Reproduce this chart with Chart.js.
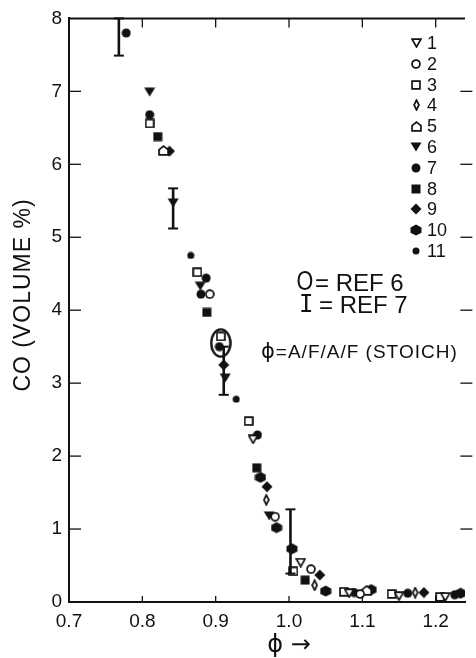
<!DOCTYPE html>
<html><head><meta charset="utf-8">
<script src="https://cdn.jsdelivr.net/npm/chart.js@4.4.1/dist/chart.umd.min.js"></script>
<style>html,body{margin:0;padding:0;background:#fff;overflow:hidden}</style>
</head><body>
<canvas id="c" width="476" height="658"></canvas>
<script>
// ---- data ----
const seriesLabels = ['1','2','3','4','5','6','7','8','9','10','11'];
const xTicks = [0.7, 0.8, 0.9, 1.0, 1.1, 1.2];
const yTicks = [0, 1, 2, 3, 4, 5, 6, 7, 8];
const s1  = [[0.951,2.23],[1.016,0.54],[1.082,0.12],[1.150,0.08],[1.213,0.07]];
const s2  = [[0.892,4.22],[0.981,1.17],[1.030,0.45],[1.097,0.11]];
const s3  = [[0.810,6.56],[0.875,4.52],[0.907,3.64],[0.945,2.48],[1.006,0.42],[1.075,0.14],[1.140,0.11],[1.206,0.07]];
const s4  = [[0.969,1.40],[1.035,0.23],[1.172,0.13]];
const s5  = [[0.829,6.19],[1.106,0.16]];
const s6  = [[0.810,6.99],[0.842,5.47],[0.879,4.33],[0.913,3.07],[0.973,1.18]];
const s7  = [[0.778,7.80],[0.810,6.68],[0.887,4.44],[0.880,4.22],[0.905,3.50],[0.957,2.29],[1.089,0.13],[1.162,0.12],[1.226,0.10]];
const s8  = [[0.821,6.38],[0.888,3.97],[0.956,1.84],[1.022,0.30]];
const s9  = [[0.837,6.18],[0.911,3.25],[0.970,1.58],[1.042,0.37],[1.184,0.13]];
const s10 = [[0.961,1.71],[0.983,1.02],[1.004,0.73],[1.050,0.15],[1.112,0.17],[1.234,0.12]];
const s11 = [[0.866,4.75],[0.928,2.78]];
const ref6 = [[0.907,3.55]];
const ref7X  = [0.768, 0.842, 0.911, 1.002];
const ref7Lo = [7.49, 5.12, 2.84, 0.39];
const ref7Hi = [8.00, 5.67, 3.50, 1.27];
const allSeries = [s1,s2,s3,s4,s5,s6,s7,s8,s9,s10,s11];

const INK = '#111';
const FONT = '"Liberation Sans", Arial, sans-serif';

function marker(kind, filled, w, h, lw) {
  const c = document.createElement('canvas'); c.width = w; c.height = h;
  const g = c.getContext('2d');
  lw = lw || 1.7;
  const m = filled ? 0.5 : lw / 2 + 0.2;
  g.beginPath();
  if (kind === 'tri') { g.moveTo(m, m); g.lineTo(w - m, m); g.lineTo(w / 2, h - m); g.closePath(); }
  else if (kind === 'circle') { g.ellipse(w / 2, h / 2, w / 2 - m, h / 2 - m, 0, 0, Math.PI * 2); }
  else if (kind === 'square') { g.rect(m, m, w - 2 * m, h - 2 * m); }
  else if (kind === 'diamond') { g.moveTo(w / 2, m); g.lineTo(w - m, h / 2); g.lineTo(w / 2, h - m); g.lineTo(m, h / 2); g.closePath(); }
  else if (kind === 'pent') { g.moveTo(w / 2, m); g.lineTo(w - m, h * 0.42); g.lineTo(w - m, h - m); g.lineTo(m, h - m); g.lineTo(m, h * 0.42); g.closePath(); }
  else if (kind === 'hex') { g.moveTo(w / 2, m); g.lineTo(w - m, h * 0.3); g.lineTo(w - m, h * 0.72); g.lineTo(w / 2, h - m); g.lineTo(m, h * 0.72); g.lineTo(m, h * 0.3); g.closePath(); }
  if (filled) { g.fillStyle = INK; g.fill(); }
  else if (filled === false) { g.fillStyle = '#fff'; g.fill(); g.lineWidth = lw; g.strokeStyle = INK; g.stroke(); }
  else { g.lineWidth = lw; g.strokeStyle = INK; g.stroke(); }
  return c;
}
const markers = [
  marker('tri', false, 11, 10),
  marker('circle', false, 10, 10),
  marker('square', false, 10, 10),
  marker('diamond', false, 7, 12),
  marker('pent', false, 11, 11),
  marker('tri', true, 12, 10),
  marker('circle', true, 10, 10),
  marker('square', true, 10, 10),
  marker('diamond', true, 12, 12),
  marker('hex', true, 12, 12),
  marker('circle', true, 8, 8)
];
const refMarker = marker('circle', null, 22, 30, 2.4);

const datasets = allSeries.map((pts, i) => ({
  label: seriesLabels[i],
  data: pts.map(p => ({x: p[0], y: p[1]})),
  pointStyle: markers[i], pointRadius: 5, showLine: false
}));
datasets.push({label: 'REF 6', data: ref6.map(p => ({x: p[0], y: p[1]})), pointStyle: refMarker, pointRadius: 10, showLine: false});

function line(ctx, x1, y1, x2, y2) { ctx.beginPath(); ctx.moveTo(x1, y1); ctx.lineTo(x2, y2); ctx.stroke(); }

const overlay = {
  id: 'overlay',
  afterDatasetsDraw(chart) {
    const {ctx, chartArea: a, scales: {x, y}} = chart;
    ctx.save();
    ctx.strokeStyle = INK; ctx.fillStyle = INK;
    ctx.lineWidth = 2;
    line(ctx, a.left, a.top, a.right, a.top);
    ctx.lineWidth = 1.3;
    const xr = x.getPixelForValue(1.25);
    yTicks.forEach(v => {
      if (v === 0 || v === 8) return;
      const py = y.getPixelForValue(v);
      line(ctx, a.left, py, a.left + 12, py);
      line(ctx, xr, py, xr - 12, py);
    });
    xTicks.forEach(v => {
      if (v === 0.7) return;
      const px = x.getPixelForValue(v);
      line(ctx, px, a.top, px, a.top + 9);
      line(ctx, px, a.bottom, px, a.bottom - 6);
    });
    ref7X.forEach((v, i) => {
      const px = x.getPixelForValue(v);
      const p1 = y.getPixelForValue(ref7Lo[i]), p2 = y.getPixelForValue(ref7Hi[i]);
      ctx.lineWidth = 2.6;
      line(ctx, px, p1, px, p2);
      ctx.lineWidth = 2;
      line(ctx, px - 5, p1, px + 5, p1);
      line(ctx, px - 5, p2, px + 5, p2);
    });
    ctx.restore();
  },
  afterDraw(chart) {
    const {ctx, scales: {x, y}} = chart;
    ctx.save();
    ctx.fillStyle = INK;
    ctx.font = '18px ' + FONT;
    ctx.textBaseline = 'middle'; ctx.textAlign = 'left';
    seriesLabels.forEach((lab, i) => {
      const yy = 43 + i * 20.8;
      const m = markers[i];
      ctx.drawImage(m, Math.round(416 - m.width / 2), Math.round(yy - m.height / 2));
      ctx.fillText(lab, 427, yy + 1);
    });
    ctx.save();
    ctx.translate(305, 282); ctx.scale(0.8, 1);
    ctx.font = '27px ' + FONT; ctx.textAlign = 'center';
    ctx.fillText('O', 0, 1);
    ctx.restore();
    ctx.font = '24px ' + FONT; ctx.textAlign = 'left';
    ctx.fillText('= REF 6', 315, 284);
    ctx.font = '24px "DejaVu Sans Mono", monospace';
    ctx.fillText('I', 299, 306);
    ctx.font = '24px ' + FONT;
    ctx.fillText('= REF 7', 319, 306);
    ctx.font = '21px "DejaVu Sans", sans-serif';
    ctx.fillText('\u03D5', 261, 353);
    const pw = ctx.measureText('\u03D5').width;
    ctx.font = '19px ' + FONT;
    ctx.letterSpacing = '1px';
    ctx.fillText('=A/F/A/F (STOICH)', 261 + pw + 1, 353);
    ctx.letterSpacing = '0px';
    ctx.save();
    ctx.translate(24, 295); ctx.rotate(-Math.PI / 2);
    ctx.font = '23px ' + FONT; ctx.textAlign = 'center';
    ctx.letterSpacing = '1px';
    ctx.fillText('CO (VOLUME %)', 0, 0);
    ctx.restore();
    ctx.font = '24px "DejaVu Sans", sans-serif'; ctx.textAlign = 'center';
    ctx.fillText('\u03D5 \u2192', x.getPixelForValue(1.0), 646);
    ctx.restore();
  }
};

new Chart(document.getElementById('c'), {
  type: 'scatter',
  data: {datasets},
  options: {
    responsive: false, animation: false, devicePixelRatio: 1,
    layout: {padding: {top: 14, right: 0, bottom: 0, left: 0}},
    plugins: {legend: {display: false}, tooltip: {enabled: false}},
    scales: {
      x: {
        type: 'linear', min: 0.7, max: 1.24,
        afterBuildTicks: s => { s.ticks = xTicks.map(v => ({value: v})); },
        afterFit: s => { s.height = 56; },
        ticks: {callback: v => Number(v).toFixed(1), font: {size: 19, family: FONT}, color: INK, padding: 8, maxRotation: 0, autoSkip: false},
        grid: {display: false, drawTicks: false},
        border: {display: true, color: INK, width: 2}
      },
      y: {
        type: 'linear', min: 0, max: 8,
        afterBuildTicks: s => { s.ticks = yTicks.map(v => ({value: v})); },
        afterFit: s => { s.width = 69; },
        ticks: {callback: v => String(v), font: {size: 19, family: FONT}, color: INK, padding: 7},
        grid: {display: false, drawTicks: false},
        border: {display: true, color: INK, width: 2}
      }
    }
  },
  plugins: [overlay]
});
</script>
</body></html>
